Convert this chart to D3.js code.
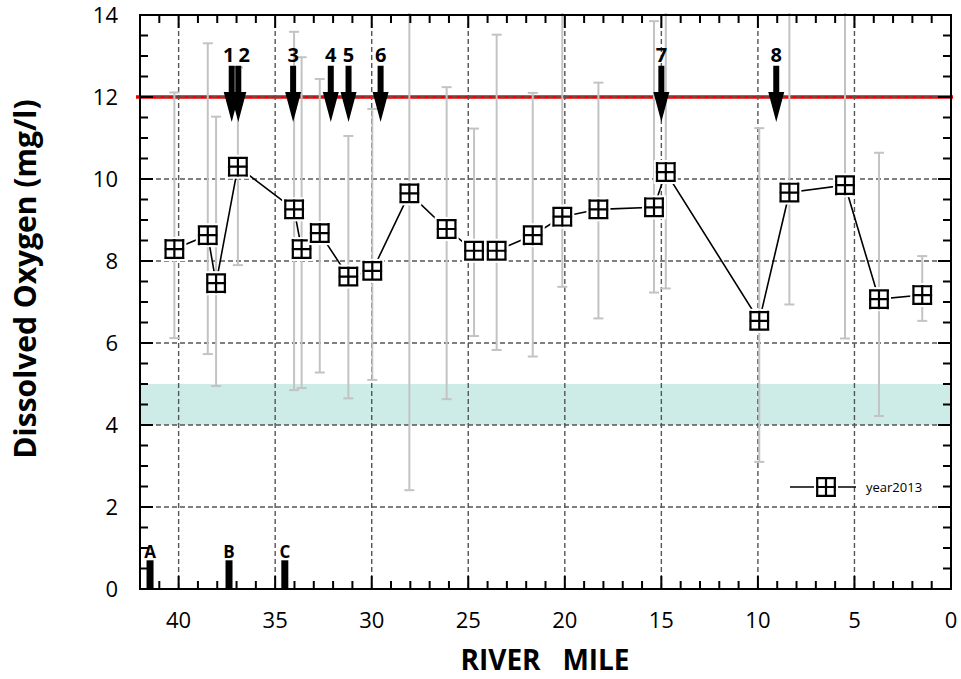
<!DOCTYPE html>
<html>
<head>
<meta charset="utf-8">
<script src="https://cdn.jsdelivr.net/npm/d3@7"></script>
<style>
  body { margin: 0; background: #fff; }
  svg { display: block; }
  text { font-family: "Open Sans", "DejaVu Sans", sans-serif; fill: #000; }
</style>
</head>
<body>
<svg id="chart" width="961" height="679"></svg>
<script>
// Dissolved oxygen along the river, 2013 survey
const riverMile = [40.22, 38.49, 38.06, 36.93, 34.02, 33.63, 32.69, 31.21, 29.97, 28.05, 26.12, 24.70,
                   23.53, 21.66, 20.13, 18.26, 15.38, 14.77, 9.93, 8.37, 5.49, 3.73, 1.49];
const doMean    = [8.29, 8.63, 7.46, 10.30, 9.26, 8.29, 8.68, 7.62, 7.76, 9.65, 8.78, 8.25,
                   8.25, 8.63, 9.08, 9.26, 9.31, 10.17, 6.54, 9.67, 9.85, 7.07, 7.17];
const doMax     = [12.11, 13.31, 11.52, 12.72, 13.59, 12.97, 12.44, 11.05, 11.71, 14.6, 12.24, 11.23,
                   13.52, 12.10, 14.5, 12.35, 13.85, 14.8, 11.24, 14.5, 14.7, 10.64, 8.12];
const doMin     = [6.12, 5.73, 4.95, 7.90, 4.85, 4.90, 5.28, 4.65, 5.10, 2.41, 4.63, 6.17,
                   5.83, 5.67, 7.37, 6.60, 7.23, 7.33, 3.10, 6.94, 6.11, 4.22, 6.54];
const seriesName = "year2013";

// Axis ticks
const xTickValues = [40, 35, 30, 25, 20, 15, 10, 5, 0];
const yTickValues = [0, 2, 4, 6, 8, 10, 12, 14];

// Numbered arrows (river miles) and lettered sites
const arrowLabels = ["1", "2", "3", "4", "5", "6", "7", "8"];
const arrowMiles  = [37.25, 36.91, 34.07, 32.12, 31.20, 29.54, 15.00, 9.05];
const siteLabels  = ["A", "B", "C"];
const siteMiles   = [41.48, 37.39, 34.50];

// Reference levels
const upperLevel = 12;
const lowBand = [4, 5];

const svg = d3.select("#chart");
const x = d3.scaleLinear().domain([42, 0]).range([140, 951]);
const y = d3.scaleLinear().domain([0, 14]).range([589, 15]);
const [x0, x1] = x.range();
const [yb, yt] = y.range();

// Low-oxygen band
svg.append("rect")
  .attr("x", x0).attr("width", x1 - x0)
  .attr("y", y(lowBand[1])).attr("height", y(lowBand[0]) - y(lowBand[1]))
  .attr("fill", "#cdece8");

// Upper reference line
svg.append("line")
  .attr("x1", x0 - 4).attr("x2", x1 + 2)
  .attr("y1", y(upperLevel)).attr("y2", y(upperLevel))
  .attr("stroke", "#ee0000").attr("stroke-width", 3.5);

// Dashed grid
const grid = svg.append("g").attr("stroke", "#555").attr("stroke-width", 1.4)
  .attr("stroke-dasharray", "5,3");
grid.selectAll(".gx").data(xTickValues.filter(v => v > 0 && v < 42)).join("line")
  .attr("x1", d => x(d)).attr("x2", d => x(d)).attr("y1", yt).attr("y2", yb);
grid.selectAll(".gy").data(yTickValues.filter(v => v > 0 && v < 14)).join("line")
  .attr("x1", x0).attr("x2", x1).attr("y1", d => y(d)).attr("y2", d => y(d));

// Min/max range bars
svg.append("clipPath").attr("id", "plotClip")
  .append("rect").attr("x", x0 - 10).attr("y", yt - 2).attr("width", x1 - x0 + 20).attr("height", yb - yt + 2);
const bars = svg.append("g").attr("clip-path", "url(#plotClip)")
  .attr("stroke", "#c3c3c3").attr("stroke-width", 2).attr("fill", "none");
riverMile.forEach((m, i) => {
  const cx = x(m);
  bars.append("line").attr("x1", cx).attr("x2", cx).attr("y1", y(doMax[i])).attr("y2", y(doMin[i]));
  bars.append("line").attr("x1", cx - 5).attr("x2", cx + 5).attr("y1", y(doMax[i])).attr("y2", y(doMax[i]));
  bars.append("line").attr("x1", cx - 5).attr("x2", cx + 5).attr("y1", y(doMin[i])).attr("y2", y(doMin[i]));
});

// Series line
const pts = riverMile.map((m, i) => [m, doMean[i]]);
svg.append("path")
  .attr("d", d3.line().x(d => x(d[0])).y(d => y(d[1]))(pts))
  .attr("fill", "none").attr("stroke", "#000").attr("stroke-width", 1.6);

// Boxed-cross marker
const glyph = "M-8.8,-10V10M0,-10V10M8.8,-10V10M-10,-8.8H10M-10,0H10M-10,8.8H10";
function marker(g) {
  g.append("rect").attr("x", -12).attr("y", -12).attr("width", 24).attr("height", 24).attr("fill", "#fff");
  g.append("path").attr("d", glyph).attr("stroke", "#000").attr("stroke-width", 2.2).attr("fill", "none");
}
svg.append("g").selectAll("g").data(pts).join("g")
  .attr("transform", d => `translate(${x(d[0])},${y(d[1])})`)
  .each(function () { marker(d3.select(this)); });

// Arrows with numbers
const arrows = svg.append("g");
const ax = arrowMiles.map(m => x(m));
arrowMiles.forEach((m, i) => {
  const cx = ax[i];
  const top = y(12.76), headBase = y(12.12), tip = y(11.39);
  arrows.append("path")
    .attr("d", `M${cx - 3},${top}H${cx + 3}V${headBase}H${cx + 8}L${cx},${tip}L${cx - 8},${headBase}H${cx - 3}Z`)
    .attr("fill", "#000");
  // spread labels of arrows that sit very close together
  let lx = cx;
  if (i > 0 && cx - ax[i - 1] < 14) lx = cx + 6;
  if (i < ax.length - 1 && ax[i + 1] - cx < 14) lx = cx - 3;
  arrows.append("text").attr("x", lx).attr("y", 62)
    .attr("text-anchor", "middle").attr("font-size", 20).attr("font-weight", 700)
    .text(arrowLabels[i]);
});

// Lettered site markers on the baseline
siteMiles.forEach((m, i) => {
  const cx = x(m);
  svg.append("rect").attr("x", cx - 3.5).attr("width", 7)
    .attr("y", y(0.7)).attr("height", yb - y(0.7)).attr("fill", "#000");
  svg.append("text").attr("x", cx).attr("y", 558)
    .attr("text-anchor", "middle").attr("font-size", 17).attr("font-weight", 700)
    .text(siteLabels[i]);
});

// Frame and inward ticks
const frame = svg.append("g").attr("stroke", "#000");
frame.append("rect").attr("x", x0).attr("y", yt).attr("width", x1 - x0).attr("height", yb - yt)
  .attr("fill", "none").attr("stroke-width", 2);
const xMinor = d3.range(1, 42).filter(v => v % 5 !== 0);
const yMinor = d3.range(0.5, 14, 0.5).filter(v => v % 2 !== 0);
const tk = frame.append("g").attr("stroke-width", 2);
xTickValues.concat(xMinor).forEach(v => {
  const len = v % 5 === 0 ? 13 : 8;
  tk.append("line").attr("x1", x(v)).attr("x2", x(v)).attr("y1", yb).attr("y2", yb - len);
  tk.append("line").attr("x1", x(v)).attr("x2", x(v)).attr("y1", yt).attr("y2", yt + len);
});
yTickValues.concat(yMinor).forEach(v => {
  const len = v % 2 === 0 ? 13 : 8;
  tk.append("line").attr("x1", x0).attr("x2", x0 + len).attr("y1", y(v)).attr("y2", y(v));
  tk.append("line").attr("x1", x1).attr("x2", x1 - len).attr("y1", y(v)).attr("y2", y(v));
});

// Tick labels
svg.append("g").selectAll("text").data(xTickValues).join("text")
  .attr("x", d => x(d)).attr("y", 628)
  .attr("text-anchor", "middle").attr("font-size", 22).text(d => d);
svg.append("g").selectAll("text").data(yTickValues).join("text")
  .attr("x", 118).attr("y", d => y(d)).attr("dy", "0.35em")
  .attr("text-anchor", "end").attr("font-size", 22).text(d => d);

// Axis titles
svg.append("text").attr("x", 545).attr("y", 670)
  .attr("text-anchor", "middle").attr("font-size", 28).attr("font-weight", 700)
  .style("white-space", "pre").text("RIVER   MILE");
svg.append("text").attr("transform", "translate(36,279) rotate(-90)")
  .attr("text-anchor", "middle").attr("font-size", 30).attr("font-weight", 700)
  .text("Dissolved Oxygen (mg/l)");

// Legend
const lg = svg.append("g").attr("transform", "translate(790,487)");
lg.append("line").attr("x1", 0).attr("x2", 66).attr("stroke", "#000").attr("stroke-width", 1.6);
const lm = lg.append("g").attr("transform", "translate(36,0)");
marker(lm);
lg.append("text").attr("x", 76).attr("y", 0).attr("dy", "0.35em")
  .attr("font-size", 13).attr("fill", "#222").text(seriesName);
</script>
</body>
</html>
